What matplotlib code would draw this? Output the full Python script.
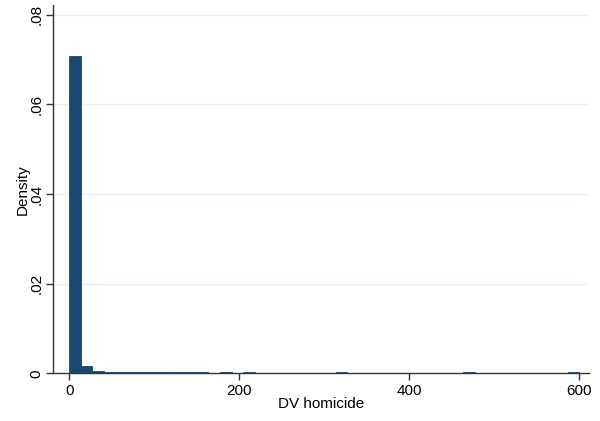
import numpy as np
import matplotlib
matplotlib.use('Agg')
import matplotlib.pyplot as plt

plt.rcParams['font.family'] = ['Liberation Sans', 'DejaVu Sans']

# histogram: 44 bins from 0 to 600
n_bins = 44
x_max = 600
density = [0.0709, 0.00163, 0.0005, 0.0002, 0.0002, 0.0002, 0.0002, 0.0002,
           0.0002, 0.0002, 0.0002, 0.0002, 0.0, 0.0002, 0.0, 0.0002,
           0.0, 0.0, 0.0, 0.0, 0.0, 0.0, 0.0, 0.0002,
           0.0, 0.0, 0.0, 0.0, 0.0, 0.0, 0.0, 0.0,
           0.0, 0.0, 0.0002, 0.0, 0.0, 0.0, 0.0, 0.0,
           0.0, 0.0, 0.0, 0.0002]

edges = np.linspace(0, x_max, n_bins + 1)
width = edges[1] - edges[0]

bar_color = '#1a476f'
axis_color = '#333333'

fig = plt.figure(figsize=(6, 4.21), dpi=100)
ax = fig.add_axes([53.3 / 600, 1 - 373.3 / 421, (589.3 - 53.3) / 600, (373.3 - 5.3) / 421])

# only draw bins that have data, with an outline so tiny ones still show
for left, d in zip(edges[:-1], density):
    if d > 0:
        ax.bar(left, d, width=width, align='edge', color=bar_color,
               edgecolor=bar_color, linewidth=0.6, zorder=3)

ax.set_xlim(-18.8, 611.8)
ax.set_ylim(0, 0.0821)

ax.set_xticks([0, 200, 400, 600])
ax.set_yticks([0, 0.02, 0.04, 0.06, 0.08])
ax.set_yticklabels(['0', '.02', '.04', '.06', '.08'], rotation=90, va='center')

for y in [0.02, 0.04, 0.06, 0.08]:
    ax.axhline(y, color='#eaf2f3', linewidth=1.0, zorder=1)

for side in ['top', 'right']:
    ax.spines[side].set_visible(False)
for side in ['left', 'bottom']:
    ax.spines[side].set_color(axis_color)
    ax.spines[side].set_linewidth(1.0)
    ax.spines[side].set_zorder(2)

ax.tick_params(axis='both', direction='out', length=5, width=1.0,
               color=axis_color, labelsize=11)
ax.tick_params(axis='x', pad=3)
ax.tick_params(axis='y', pad=2)

ax.set_xlabel('DV homicide', fontsize=11, labelpad=-1)
ax.set_ylabel('Density', fontsize=11, labelpad=0)

fig.savefig('out.png', dpi=100, facecolor='white')
